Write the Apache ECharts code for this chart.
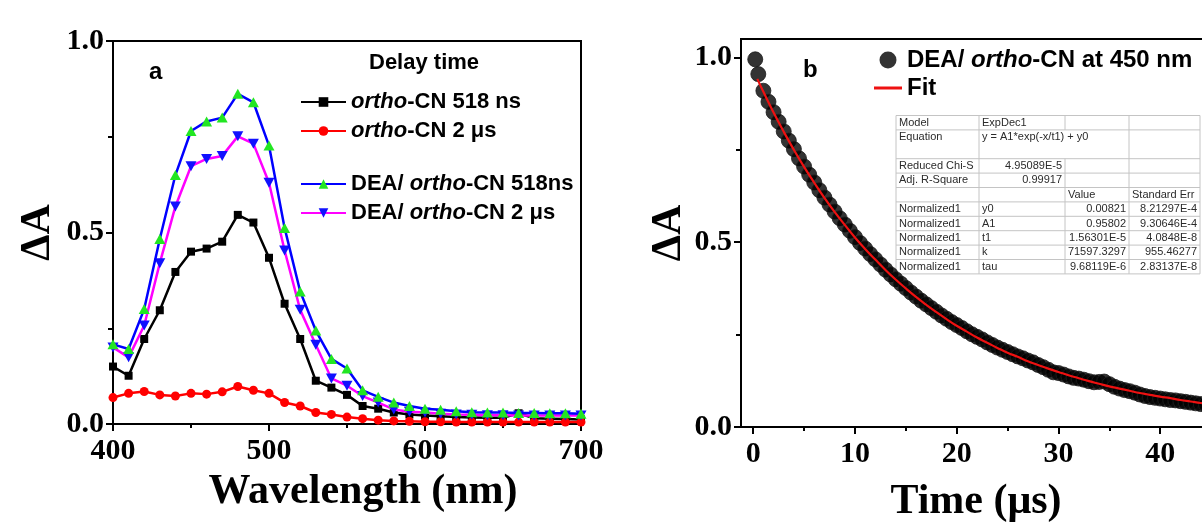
<!DOCTYPE html>
<html>
<head>
<meta charset="utf-8">
<title>Transient absorption spectra and decay</title>
<script src="https://cdn.jsdelivr.net/npm/echarts@6/dist/echarts.min.js"></script>
<style>
  html, body { margin: 0; padding: 0; background: #ffffff; }
  #chart { width: 1202px; height: 523px; }
</style>
</head>
<body>
<div id="chart"></div>
<script>
// ---- Panel a: transient absorption spectra ----
const wavelengths = [400, 410, 420, 430, 440, 450, 460, 470, 480, 490, 500, 510, 520, 530, 540, 550,
  560, 570, 580, 590, 600, 610, 620, 630, 640, 650, 660, 670, 680, 690, 700];

const orthoCN518ns = [0.150, 0.126, 0.222, 0.297, 0.397, 0.450, 0.458, 0.476, 0.546, 0.526, 0.434,
  0.314, 0.222, 0.113, 0.095, 0.076, 0.047, 0.040, 0.030, 0.025, 0.022, 0.020, 0.018, 0.017, 0.016,
  0.016, 0.028, 0.015, 0.014, 0.013, 0.012];

const orthoCN2us = [0.069, 0.080, 0.085, 0.076, 0.073, 0.080, 0.078, 0.084, 0.098, 0.088, 0.080,
  0.056, 0.047, 0.030, 0.025, 0.018, 0.014, 0.010, 0.008, 0.007, 0.006, 0.006, 0.005, 0.005, 0.005,
  0.005, 0.005, 0.005, 0.005, 0.005, 0.005];

const deaOrthoCN518ns = [0.208, 0.196, 0.300, 0.483, 0.650, 0.765, 0.790, 0.800, 0.862, 0.840, 0.727,
  0.512, 0.346, 0.244, 0.170, 0.145, 0.088, 0.071, 0.056, 0.047, 0.040, 0.037, 0.033, 0.031, 0.030,
  0.030, 0.029, 0.029, 0.028, 0.028, 0.027];

const deaOrthoCN2us = [0.200, 0.174, 0.257, 0.420, 0.568, 0.673, 0.692, 0.700, 0.751, 0.732, 0.630,
  0.453, 0.298, 0.207, 0.119, 0.100, 0.073, 0.056, 0.038, 0.032, 0.030, 0.027, 0.025, 0.024, 0.023,
  0.023, 0.022, 0.022, 0.022, 0.022, 0.022];

const wavelengthTicks = [400, 500, 600, 700];
const deltaATicks = [0.0, 0.5, 1.0];

// ---- Panel b: kinetic trace at 450 nm and its exponential fit ----
const decayTime = [0.2, 0.5, 1.0, 1.5, 2.0, 2.5, 3.0, 3.5, 4.0, 4.5, 5.0, 5.5, 6.0, 6.5, 7.0, 7.5,
  8.0, 8.5, 9.0, 9.5, 10.0, 10.5, 11.0, 11.5, 12.0, 12.5, 13.0, 13.5, 14.0, 14.5, 15.0, 15.5,
  16.0, 16.5, 17.0, 17.5, 18.0, 18.5, 19.0, 19.5, 20.0, 20.5, 21.0, 21.5, 22.0, 22.5, 23.0, 23.5,
  24.0, 24.5, 25.0, 25.5, 26.0, 26.5, 27.0, 27.5, 28.0, 28.5, 29.0, 29.5, 30.0, 30.5, 31.0, 31.5,
  32.0, 32.5, 33.0, 33.5, 34.0, 34.5, 35.0, 35.5, 36.0, 36.5, 37.0, 37.5, 38.0, 38.5, 39.0, 39.5,
  40.0, 40.5, 41.0, 41.5, 42.0, 42.5, 43.0, 43.5, 44.0, 44.5, 45.0];

const decayDA = [0.995, 0.955, 0.910, 0.880, 0.852, 0.826, 0.800, 0.775, 0.752, 0.727, 0.705, 0.683,
  0.662, 0.641, 0.621, 0.602, 0.583, 0.565, 0.548, 0.531, 0.514, 0.498, 0.483, 0.468, 0.454, 0.440,
  0.426, 0.413, 0.400, 0.388, 0.376, 0.364, 0.353, 0.342, 0.332, 0.322, 0.312, 0.302, 0.293, 0.284,
  0.276, 0.268, 0.259, 0.251, 0.244, 0.237, 0.229, 0.222, 0.215, 0.209, 0.203, 0.197, 0.191, 0.186,
  0.180, 0.175, 0.168, 0.162, 0.155, 0.148, 0.146, 0.142, 0.137, 0.133, 0.131, 0.128, 0.124, 0.121,
  0.122, 0.123, 0.116, 0.109, 0.104, 0.100, 0.097, 0.093, 0.088, 0.084, 0.081, 0.079, 0.077, 0.075,
  0.073, 0.072, 0.070, 0.068, 0.066, 0.064, 0.062, 0.061, 0.059];

const fitTime = [0.4, 1, 2, 3, 4, 5, 6, 7, 8, 9, 10, 11, 12, 13, 14, 15, 16, 17, 18, 19, 20, 21, 22,
  23, 24, 25, 26, 27, 28, 29, 30, 31, 32, 33, 34, 35, 36, 37, 38, 39, 40, 41, 42, 43, 44, 45];

const fitDA = [0.942, 0.907, 0.851, 0.799, 0.750, 0.704, 0.661, 0.620, 0.582, 0.547, 0.513, 0.482,
  0.453, 0.425, 0.399, 0.375, 0.352, 0.331, 0.311, 0.292, 0.274, 0.258, 0.242, 0.228, 0.214, 0.201,
  0.190, 0.178, 0.168, 0.158, 0.149, 0.140, 0.132, 0.124, 0.117, 0.110, 0.104, 0.098, 0.092, 0.087,
  0.082, 0.078, 0.073, 0.069, 0.065, 0.062];

const timeTicks = [0, 10, 20, 30, 40];
const timeMinorTicks = [5, 15, 25, 35, 45];
const deltaAMinorTicks = [0.25, 0.75];

// Fit report shown as an inset table
const fitTableRows = [
  ['Model', 'ExpDec1', '', ''],
  ['Equation', 'y = A1*exp(-x/t1) + y0', '', ''],
  ['Reduced Chi-S', '4.95089E-5', '', ''],
  ['Adj. R-Square', '0.99917', '', ''],
  ['', '', 'Value', 'Standard Err'],
  ['Normalized1', 'y0', '0.00821', '8.21297E-4'],
  ['Normalized1', 'A1', '0.95802', '9.30646E-4'],
  ['Normalized1', 't1', '1.56301E-5', '4.0848E-8'],
  ['Normalized1', 'k', '71597.3297', '955.46277'],
  ['Normalized1', 'tau', '9.68119E-6', '2.83137E-8']
];

const serif = '"Liberation Serif", "Times New Roman", serif';
const sans = '"Liberation Sans", Arial, sans-serif';

function pairs(xs, ys) { return xs.map((x, i) => [x, ys[i]]); }

function italicOrtho(name) { return name.replace('ortho', '{it|ortho}'); }

function legendText(size) {
  return {
    fontFamily: sans, fontWeight: 'bold', fontSize: size, color: '#000', lineHeight: 24,
    rich: { it: { fontFamily: sans, fontWeight: 'bold', fontStyle: 'italic', fontSize: size, color: '#000', lineHeight: 24 } }
  };
}

const tickLabel = { fontFamily: serif, fontWeight: 'bold', fontSize: 30, color: '#000' };
const axisName = { fontFamily: serif, fontWeight: 'bold', fontSize: 42, color: '#000' };
const blackLine = { color: '#000', width: 2 };

// ---- inset table drawn with graphic primitives ----
function buildTable() {
  const y0 = 115.5, rowH = 14.4;
  const cols = [896, 979, 1065, 1129, 1200];
  const nUnits = 11;
  const rowStart = [0, 1, 3, 4, 5, 6, 7, 8, 9, 10];
  const children = [];
  const lineStyle = { stroke: '#c4c4c4', lineWidth: 1 };
  children.push({ type: 'rect', shape: { x: cols[0], y: y0, width: cols[4] - cols[0], height: nUnits * rowH },
    style: { fill: '#ffffff', stroke: '#c4c4c4', lineWidth: 1 } });
  for (let u = 1; u < nUnits; u++) {
    if (u === 2) continue;
    children.push({ type: 'line', shape: { x1: cols[0], y1: y0 + u * rowH, x2: cols[4], y2: y0 + u * rowH }, style: lineStyle });
  }
  for (let c = 1; c < 4; c++) {
    if (c === 2) {
      children.push({ type: 'line', shape: { x1: cols[c], y1: y0, x2: cols[c], y2: y0 + rowH }, style: lineStyle });
      children.push({ type: 'line', shape: { x1: cols[c], y1: y0 + 3 * rowH, x2: cols[c], y2: y0 + nUnits * rowH }, style: lineStyle });
    } else {
      children.push({ type: 'line', shape: { x1: cols[c], y1: y0, x2: cols[c], y2: y0 + nUnits * rowH }, style: lineStyle });
    }
  }
  const numeric = /^[-+0-9.E]+$/;
  fitTableRows.forEach((row, r) => {
    const cy = y0 + (rowStart[r] + 0.5) * rowH;
    row.forEach((txt, c) => {
      if (!txt) return;
      const right = c > 0 && numeric.test(txt);
      children.push({
        type: 'text',
        style: {
          text: txt, x: right ? cols[c + 1] - 3 : cols[c] + 3, y: cy,
          align: right ? 'right' : 'left', verticalAlign: 'middle',
          font: '11px ' + sans, fill: '#2b2b2b'
        }
      });
    });
  });
  return { type: 'group', children: children };
}

const chart = echarts.init(document.getElementById('chart'), null, { renderer: 'canvas' });

const option = {
  animation: false,
  backgroundColor: '#ffffff',
  grid: [
    { left: 113, top: 41, width: 468, height: 383, show: true, borderColor: '#000', borderWidth: 2,
      backgroundColor: 'transparent', containLabel: false, outerBoundsMode: 'none' },
    { left: 741, top: 39, width: 470, height: 388, show: true, borderColor: '#000', borderWidth: 2,
      backgroundColor: 'transparent', containLabel: false, outerBoundsMode: 'none' }
  ],
  legend: [
    {
      data: ['ortho-CN 518 ns', 'ortho-CN 2 μs'],
      left: 295, top: 85, orient: 'vertical', itemWidth: 45, itemHeight: 12, itemGap: 5,
      formatter: italicOrtho, textStyle: legendText(22), selectedMode: false
    },
    {
      data: ['DEA/ ortho-CN 518ns', 'DEA/ ortho-CN 2 μs'],
      left: 295, top: 167, orient: 'vertical', itemWidth: 45, itemHeight: 12, itemGap: 5,
      formatter: italicOrtho, textStyle: legendText(22), selectedMode: false
    },
    {
      data: [
        { name: 'DEA/ ortho-CN at 450 nm', icon: 'circle', itemStyle: { color: '#000', borderWidth: 0 } },
        { name: 'Fit', icon: 'path://M0,0L28,0L28,3L0,3Z' }
      ],
      left: 869, top: 43, orient: 'vertical', itemWidth: 28, itemHeight: 17, itemGap: 4,
      formatter: italicOrtho, textStyle: legendText(24), selectedMode: false
    }
  ],
  xAxis: [
    {
      gridIndex: 0, type: 'value', min: 400, max: 700, interval: 100,
      axisLine: { onZero: false, lineStyle: blackLine },
      axisTick: { length: 7, lineStyle: blackLine },
      minorTick: { show: true, splitNumber: 2, length: 4, lineStyle: blackLine },
      splitLine: { show: false }, minorSplitLine: { show: false },
      axisLabel: Object.assign({ margin: 12, customValues: wavelengthTicks }, tickLabel),
      name: 'Wavelength (nm)', nameLocation: 'middle', nameGap: 40,
      nameTextStyle: Object.assign({ padding: [0, 0, 0, 32] }, axisName)
    },
    {
      gridIndex: 1, type: 'value', min: -1.2, max: 45,
      axisLine: { onZero: false, lineStyle: blackLine },
      axisTick: { length: 7, lineStyle: blackLine, customValues: timeTicks },
      splitLine: { show: false },
      axisLabel: Object.assign({ margin: 12, customValues: timeTicks }, tickLabel),
      name: 'Time (μs)', nameLocation: 'middle', nameGap: 54, nameTextStyle: axisName
    },
    {
      gridIndex: 1, type: 'value', min: -1.2, max: 45, position: 'bottom',
      axisLine: { show: false, onZero: false },
      axisTick: { length: 4, lineStyle: blackLine, customValues: timeMinorTicks },
      axisLabel: { show: false }, splitLine: { show: false }
    }
  ],
  yAxis: [
    {
      gridIndex: 0, type: 'value', min: 0, max: 1, interval: 0.5,
      axisLine: { onZero: false, lineStyle: blackLine },
      axisTick: { length: 7, lineStyle: blackLine },
      minorTick: { show: true, splitNumber: 2, length: 5, lineStyle: blackLine },
      splitLine: { show: false }, minorSplitLine: { show: false },
      axisLabel: Object.assign({ margin: 9, formatter: v => v.toFixed(1) }, tickLabel),
      name: 'ΔA', nameLocation: 'middle', nameRotate: 90, nameGap: 54, nameTextStyle: axisName
    },
    {
      gridIndex: 1, type: 'value', min: 0, max: 1.05,
      axisLine: { onZero: false, lineStyle: blackLine },
      axisTick: { length: 7, lineStyle: blackLine, customValues: deltaATicks },
      splitLine: { show: false },
      axisLabel: Object.assign({ margin: 9, customValues: deltaATicks, formatter: v => v.toFixed(1) }, tickLabel),
      name: 'ΔA', nameLocation: 'middle', nameRotate: 90, nameGap: 49, nameTextStyle: axisName
    },
    {
      gridIndex: 1, type: 'value', min: 0, max: 1.05, position: 'left',
      axisLine: { show: false, onZero: false },
      axisTick: { length: 5, lineStyle: blackLine, customValues: deltaAMinorTicks },
      axisLabel: { show: false }, splitLine: { show: false }
    }
  ],
  series: [
    {
      name: 'ortho-CN 518 ns', type: 'line', xAxisIndex: 0, yAxisIndex: 0,
      data: pairs(wavelengths, orthoCN518ns),
      symbol: 'rect', symbolSize: 8, showAllSymbol: true,
      lineStyle: { color: '#000000', width: 2.5 }, itemStyle: { color: '#000000' }, z: 3
    },
    {
      name: 'ortho-CN 2 μs', type: 'line', xAxisIndex: 0, yAxisIndex: 0,
      data: pairs(wavelengths, orthoCN2us),
      symbol: 'circle', symbolSize: 9, showAllSymbol: true,
      lineStyle: { color: '#ff0000', width: 2.5 }, itemStyle: { color: '#ff0000' }, z: 4
    },
    {
      name: 'DEA/ ortho-CN 2 μs', type: 'line', xAxisIndex: 0, yAxisIndex: 0,
      data: pairs(wavelengths, deaOrthoCN2us),
      symbol: 'path://M0,0L10,0L5,9Z', symbolSize: [11, 10], showAllSymbol: true,
      lineStyle: { color: '#ff00ff', width: 2.5 }, itemStyle: { color: '#1010ff' }, z: 5
    },
    {
      name: 'DEA/ ortho-CN 518ns', type: 'line', xAxisIndex: 0, yAxisIndex: 0,
      data: pairs(wavelengths, deaOrthoCN518ns),
      symbol: 'triangle', symbolSize: [11, 10], showAllSymbol: true,
      lineStyle: { color: '#0000ff', width: 2.5 }, itemStyle: { color: '#22e622' }, z: 6
    },
    {
      name: 'DEA/ ortho-CN at 450 nm', type: 'scatter', xAxisIndex: 1, yAxisIndex: 1,
      data: pairs(decayTime, decayDA),
      symbol: 'circle', symbolSize: 15,
      itemStyle: { color: '#000000', borderColor: '#1c1c1c', borderWidth: 1 }, z: 3
    },
    {
      name: 'Fit', type: 'line', xAxisIndex: 1, yAxisIndex: 1,
      data: pairs(fitTime, fitDA), smooth: true, symbol: 'none',
      lineStyle: { color: '#ee1111', width: 2.2 }, itemStyle: { color: '#ee1111' }, z: 4
    }
  ],
  graphic: [
    { type: 'text', left: 149, top: 60, style: { text: 'a', font: 'bold 24px ' + sans, fill: '#000' } },
    { type: 'text', left: 803, top: 58, style: { text: 'b', font: 'bold 24px ' + sans, fill: '#000' } },
    { type: 'text', left: 369, top: 52, style: { text: 'Delay time', font: 'bold 22px ' + sans, fill: '#000' } },
    buildTable()
  ]
};

chart.setOption(option);
</script>
</body>
</html>
